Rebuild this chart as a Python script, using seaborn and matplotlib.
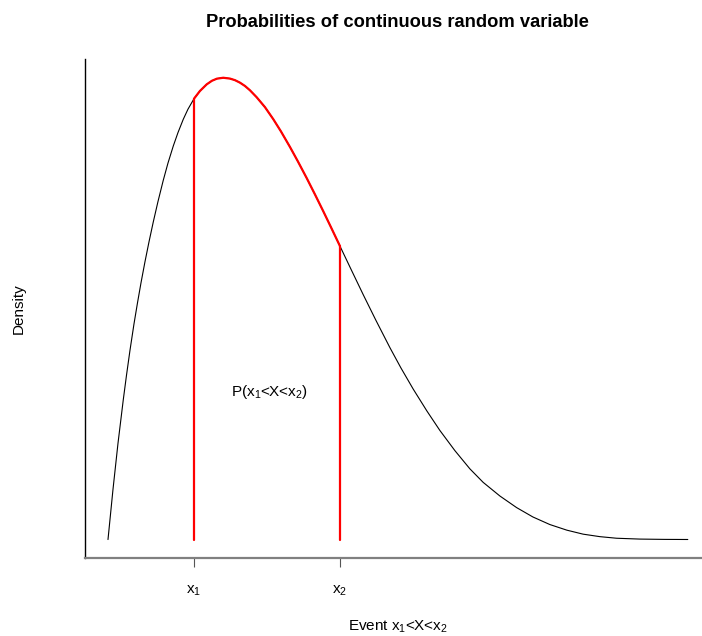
import numpy as np
import pandas as pd
import matplotlib
matplotlib.use("Agg")
import matplotlib.pyplot as plt
import seaborn as sns

# Density curve
x_vals = [0.000, 0.086, 0.172, 0.264, 0.319, 0.379, 0.448, 0.509, 0.569, 0.638,
          0.707, 0.781, 0.862, 0.953, 1.034, 1.126, 1.207, 1.298, 1.379, 1.483,
          1.586, 1.702, 1.793, 1.879, 1.988, 2.103, 2.190, 2.276, 2.362, 2.448,
          2.564, 2.707, 2.850, 2.983, 3.138, 3.276, 3.426, 3.569, 3.712, 3.845,
          4.000, 4.190, 4.402, 4.621, 4.862, 5.052, 5.264, 5.500, 5.724, 5.983,
          6.241, 6.471, 6.759, 7.047, 7.328, 7.621, 7.914, 8.195, 8.483, 8.771,
          9.172, 9.603, 10.000]
density = [0.00000, 0.01953, 0.03746, 0.05461, 0.06408, 0.07379, 0.08408, 0.09238,
           0.10013, 0.10840, 0.11612, 0.12391, 0.13186, 0.14013, 0.14683, 0.15354,
           0.15876, 0.16394, 0.16788, 0.17197, 0.17501, 0.17758, 0.17899, 0.17981,
           0.18016, 0.17984, 0.17922, 0.17825, 0.17696, 0.17528, 0.17256, 0.16870,
           0.16402, 0.15923, 0.15318, 0.14749, 0.14106, 0.13467, 0.12812, 0.12188,
           0.11452, 0.10551, 0.09553, 0.08552, 0.07488, 0.06696, 0.05870, 0.05016,
           0.04256, 0.03469, 0.02760, 0.02230, 0.01699, 0.01247, 0.00881, 0.00585,
           0.00366, 0.00210, 0.00113, 0.00051, 0.00018, 0.00006, 0.00002]

x1 = 1.483
x2 = 4.000
tick_positions = [x1, x2]
tick_labels = ["x$_1$", "x$_2$"]
title = "Probabilities of continuous random variable"
xlabel = "Event x$_1$<X<x$_2$"
ylabel = "Density"
annotation = "P(x$_1$<X<x$_2$)"

df = pd.DataFrame({"x": x_vals, "density": density})
seg = df[(df["x"] >= x1) & (df["x"] <= x2)]
f_x1 = float(np.interp(x1, df["x"], df["density"]))
f_x2 = float(np.interp(x2, df["x"], df["density"]))

sns.set_style("white")
plt.rcParams["font.family"] = ["Liberation Sans", "DejaVu Sans"]
plt.rcParams["mathtext.fontset"] = "custom"
plt.rcParams["mathtext.rm"] = "Liberation Sans"
plt.rcParams["mathtext.it"] = "Liberation Sans"
plt.rcParams["mathtext.default"] = "rm"
plt.rcParams["text.color"] = "black"
plt.rcParams["axes.labelcolor"] = "black"
plt.rcParams["xtick.color"] = "black"

fig = plt.figure(figsize=(7.02, 6.36), dpi=100)
ax = fig.add_axes([84.8 / 702, 1 - 558 / 636, (711 - 84.8) / 702, (558 - 59.2) / 636])

sns.lineplot(data=df, x="x", y="density", color="black", linewidth=0.8, ax=ax)
sns.lineplot(data=seg, x="x", y="density", color="red", linewidth=1.6, ax=ax)
ax.plot([x1, x1], [0, f_x1], color="red", linewidth=1.6)
ax.plot([x2, x2], [0, f_x2], color="red", linewidth=1.6)

ax.text(2.79, 0.0575, annotation, ha="center", va="center", fontsize=11, color="black")

ax.set_xlim(-0.4, 10.4)
ax.set_ylim(-0.0072, 0.1874)
ax.set_xticks(tick_positions)
ax.set_xticklabels(tick_labels, fontsize=11)
ax.set_yticks([])
ax.tick_params(axis="x", direction="out", length=6.5, width=0.8, color="#555555",
               labelcolor="black", pad=12, bottom=True)

for s in ["top", "right"]:
    ax.spines[s].set_visible(False)
ax.spines["left"].set_color("black")
ax.spines["left"].set_linewidth(1.0)
ax.spines["bottom"].set_color("#808080")
ax.spines["bottom"].set_linewidth(1.6)

ax.set_title(title, fontsize=13.2, fontweight="bold", pad=23, color="black")
ax.set_xlabel(xlabel, fontsize=11, labelpad=15, color="black")
ax.set_ylabel(ylabel, fontsize=11, labelpad=42.5, color="black")

fig.savefig("out.png", dpi=100)
